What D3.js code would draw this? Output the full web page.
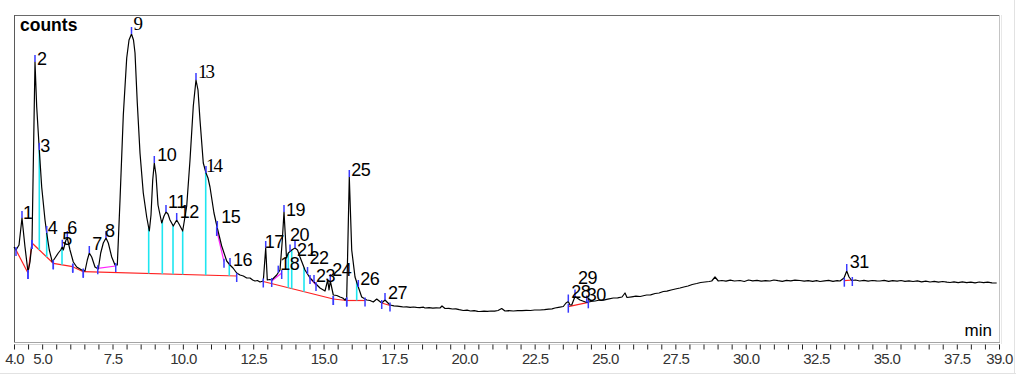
<!DOCTYPE html>
<html>
<head>
<meta charset="utf-8">
<script src="https://cdn.jsdelivr.net/npm/d3@7"></script>
<style>
  html, body { margin: 0; padding: 0; background: #fff; }
  svg { display: block; font-family: "Liberation Sans", Arial, sans-serif; }
</style>
</head>
<body>
<div id="svgContainer"></div>
<script>
// chromatogram trace: retention time (min) and detector counts
const times = [
  4.000, 4.071, 4.178, 4.284, 4.391, 4.497, 4.569, 4.640, 4.746, 4.807,
  4.878, 4.899, 4.984, 5.102, 5.162, 5.254, 5.361, 5.457, 5.574, 5.659,
  5.716, 5.752, 5.848, 5.894, 5.990, 6.107, 6.228, 6.406, 6.523, 6.605,
  6.676, 6.761, 6.878, 6.995, 7.081, 7.173, 7.269, 7.351, 7.472, 7.589,
  7.671, 7.767, 7.884, 8.005, 8.087, 8.175, 8.246, 8.300, 8.381, 8.477,
  8.594, 8.715, 8.808, 8.868, 8.929, 8.985, 9.046, 9.117, 9.248, 9.330,
  9.401, 9.472, 9.543, 9.660, 9.781, 9.863, 9.994, 10.137, 10.254, 10.371,
  10.467, 10.538, 10.609, 10.726, 10.822, 10.893, 10.964, 11.106, 11.224, 11.380,
  11.558, 11.675, 11.782, 11.913, 12.031, 12.150, 12.269, 12.386, 12.480, 12.564,
  12.650, 12.741, 12.858, 12.944, 13.001, 13.080, 13.157, 13.335, 13.452, 13.534,
  13.594, 13.640, 13.683, 13.747, 13.868, 13.985, 14.074, 14.162, 14.340, 14.518,
  14.695, 14.873, 15.051, 15.147, 15.193, 15.239, 15.346, 15.470, 15.584, 15.680,
  15.762, 15.822, 15.914, 16.000, 16.117, 16.234, 16.355, 16.533, 16.650, 16.767,
  16.888, 17.066, 17.183, 17.360, 17.500, 17.620, 17.750, 17.833, 17.950, 18.080,
  18.190, 18.300, 18.420, 18.550, 18.604, 18.750, 18.880, 19.000, 19.137, 19.208,
  19.315, 19.450, 19.580, 19.700, 19.820, 19.965, 20.100, 20.220, 20.350, 20.480,
  20.558, 20.700, 20.820, 20.950, 21.080, 21.198, 21.329, 21.447, 21.580, 21.742,
  21.900, 22.050, 22.200, 22.350, 22.500, 22.690, 22.850, 23.000, 23.120, 23.223,
  23.350, 23.518, 23.614, 23.696, 23.756, 23.817, 23.934, 24.112, 24.350, 24.500,
  24.650, 24.822, 24.950, 25.100, 25.295, 25.450, 25.604, 25.711, 25.782, 25.950,
  26.100, 26.250, 26.400, 26.482, 26.620, 26.780, 26.920, 27.072, 27.200, 27.350,
  27.500, 27.665, 27.800, 27.950, 28.100, 28.259, 28.400, 28.550, 28.700, 28.792,
  28.909, 29.026, 29.150, 29.300, 29.450, 29.600, 29.797, 29.950, 30.100, 30.250,
  30.400, 30.550, 30.700, 30.863, 31.000, 31.150, 31.300, 31.450, 31.600, 31.750,
  31.929, 32.080, 32.220, 32.380, 32.520, 32.640, 32.800, 32.950, 33.100, 33.250,
  33.351, 33.493, 33.589, 33.671, 33.767, 33.900, 34.050, 34.200, 34.350, 34.500,
  34.650, 34.772, 34.920, 35.080, 35.220, 35.380, 35.520, 35.660, 35.800, 35.945,
  36.100, 36.250, 36.400, 36.550, 36.700, 36.850, 37.000, 37.150, 37.259, 37.400,
  37.550, 37.700, 37.850, 38.000, 38.150, 38.300, 38.450, 38.600, 38.750, 38.918
];
const counts = [
  9600, 9300, 9800, 12500, 9600, 7100, 8100, 10100, 28100, 23600,
  20300, 19300, 15600, 12300, 11000, 9300, 8100, 8500, 9000, 9300,
  9630, 9300, 10300, 10500, 9300, 8100, 7600, 7300, 7200, 8300,
  9000, 8600, 7600, 7400, 9000, 10000, 10500, 10000, 8600, 7800,
  7800, 14300, 22800, 28500, 30300, 30900, 30300, 29000, 24000, 19000,
  15000, 12600, 11200, 12800, 16300, 18000, 16800, 13800, 12000, 12700,
  13100, 12900, 12300, 11700, 12300, 11900, 11200, 13700, 18300, 23700,
  26300, 25300, 22300, 18000, 17000, 16500, 15600, 13000, 11500, 9700,
  8200, 7800, 7500, 7000, 6800, 6700, 6500, 6500, 6300, 6200,
  6250, 6100, 6200, 9500, 6300, 6350, 6300, 6800, 7300, 10300,
  13100, 10800, 8500, 9000, 9300, 9500, 9300, 8600, 7300, 6500,
  6000, 5500, 5200, 6300, 5300, 6200, 4800, 4750, 4600, 4500,
  4300, 4500, 16600, 9300, 6600, 5600, 4600, 4300, 4250, 4100,
  4400, 4000, 4300, 3800, 3720, 3680, 3640, 3600, 3620, 3570,
  3600, 3560, 3540, 3580, 3500, 3530, 3490, 3510, 3500, 3700,
  3450, 3470, 3400, 3420, 3330, 3250, 3280, 3200, 3230, 3170,
  3150, 3190, 3160, 3200, 3180, 3250, 3450, 3200, 3230, 3200,
  3240, 3230, 3270, 3250, 3300, 3300, 3330, 3380, 3420, 3500,
  3560, 3650, 4000, 4150, 3800, 3800, 4650, 4300, 4050, 4150,
  4200, 4300, 4280, 4380, 4500, 4520, 4600, 5000, 4550, 4620,
  4680, 4650, 4750, 4800, 4820, 4950, 5000, 5150, 5180, 5300,
  5400, 5500, 5600, 5700, 5850, 5950, 6050, 6100, 6150, 6200,
  6600, 6200, 6250, 6180, 6280, 6200, 6250, 6150, 6300, 6220,
  6260, 6180, 6240, 6200, 6300, 6230, 6170, 6260, 6210, 6280,
  6250, 6180, 6240, 6160, 6230, 6150, 6220, 6260, 6170, 6230,
  6200, 6500, 7200, 6600, 6250, 6300, 6200, 6260, 6180, 6250,
  6210, 6200, 6260, 6170, 6230, 6190, 6250, 6160, 6220, 6150,
  6210, 6120, 6180, 6100, 6160, 6090, 6150, 6080, 6050, 6120,
  6040, 6110, 6030, 6090, 6020, 6100, 6030, 6080, 6010, 6000
];

// integrated peaks: number and apex retention time
const peakLabels = [
  "1", "2", "3", "4", "5", "6", "7", "8", "9", "10",
  "11", "12", "13", "14", "15", "16", "17", "18", "19", "20",
  "21", "22", "23", "24", "25", "26", "27", "28", "29", "30", "31"
];
const peakTimes = [
  4.284, 4.746, 4.899, 5.162, 5.716, 5.894, 6.676, 7.269, 8.175, 8.985,
  9.401, 9.781, 10.467, 10.822, 11.224, 11.675, 12.944, 13.39, 13.594, 13.808,
  13.985, 14.43, 14.66, 15.239, 15.914, 16.234, 17.183, 23.696, 23.934, 24.35, 33.589
];

// baselines: [t0, c0, t1, c1]
const baselineSegs = [
  [4.071, 9300, 4.497, 7000],
  [4.497, 7000, 4.640, 10000],
  [4.640, 10000, 5.396, 7970],
  [5.396, 7970, 6.086, 7630],
  [6.086, 7630, 6.462, 7130],
  [6.462, 7130, 11.913, 6700],
  [12.858, 6150, 15.346, 4400],
  [15.346, 4400, 15.822, 4250],
  [15.822, 4250, 16.473, 4250],
  [17.066, 4000, 17.360, 3750],
  [23.696, 3630, 24.407, 4070],
  [33.504, 6230, 33.788, 6300]
];
// tangent skims
const skimSegs = [
  [6.976, 7470, 7.615, 7700],
  [11.202, 11300, 11.462, 8130],
  [13.157, 6200, 13.512, 7000],
  [14.518, 6500, 14.731, 5800]
];
// perpendicular drops
const dropTimes = [
  4.899, 5.162, 5.706, 8.786, 9.270, 9.650, 9.994, 10.812, 11.650,
  13.747, 13.868, 14.305, 16.177
];

const tickLabels = [4, 5, 7.5, 10, 12.5, 15, 17.5, 20, 22.5, 25, 27.5, 30, 32.5, 35, 37.5, 39];

// label shift for each peak number, in pixels
const labelShift = [
  [1, 1], [2, 3], [1, 2], [1, 1], [0, -2], [0, -4], [3, -3], [-1, -1], [2, -4], [3, -2],
  [2, -4], [3, -2], [2, -2], [0, -1], [4, -5], [3, 1], [-1, 0], [2, -3], [2, 4], [0, -10],
  [2, 8], [2, -10], [2, 0], [2, -5], [2, -1], [2, -2], [3, -1], [3, -4], [3, -13], [0, -2], [3, -3]
];
const serifLabels = ["9", "13", "14"];

const width = 1016;
const height = 376;

const x = d3.scaleLinear().domain([4, 39]).range([14, 999]);
const y = d3.scaleLinear().domain([0, 32800]).range([343, 15]);

const trace = times.map((t, i) => ({ t: t, c: counts[i] }));
const bisect = d3.bisector((d) => d.t).left;

function signalAt(t) {
  const i = bisect(trace, t);
  if (i <= 0) return trace[0].c;
  if (i >= trace.length) return trace[trace.length - 1].c;
  const a = trace[i - 1], b = trace[i];
  return a.c + ((b.c - a.c) * (t - a.t)) / (b.t - a.t);
}

function baselineAt(t) {
  const s = baselineSegs.find((d) => t >= d[0] && t <= d[2]);
  if (!s) return signalAt(t);
  return s[1] + ((s[3] - s[1]) * (t - s[0])) / (s[2] - s[0]);
}

const svg = d3
  .select("#svgContainer")
  .append("svg")
  .attr("width", width)
  .attr("height", height);

// outer edge
svg.append("line").attr("x1", 0).attr("x2", width).attr("y1", 373.5).attr("y2", 373.5)
  .attr("stroke", "#e2e2e2");
svg.append("line").attr("x1", 1014.5).attr("x2", 1014.5).attr("y1", 0).attr("y2", 374)
  .attr("stroke", "#e2e2e2");

// plot frame
svg.append("line").attr("x1", 14).attr("x2", 999).attr("y1", 15.5).attr("y2", 15.5)
  .attr("stroke", "#6a6a6a");
svg.append("line").attr("x1", 14.5).attr("x2", 14.5).attr("y1", 15).attr("y2", 343)
  .attr("stroke", "#5a5a5a");
svg.append("line").attr("x1", 999.5).attr("x2", 999.5).attr("y1", 15).attr("y2", 343)
  .attr("stroke", "#c4c4c4");
svg.append("line").attr("x1", 1001.5).attr("x2", 1001.5).attr("y1", 15).attr("y2", 344)
  .attr("stroke", "#e8e8e8");
svg.append("line").attr("x1", 14).attr("x2", 1000).attr("y1", 342.5).attr("y2", 342.5)
  .attr("stroke", "#a4a4a4");
svg.append("line").attr("x1", 14).attr("x2", 1000).attr("y1", 344.5).attr("y2", 344.5)
  .attr("stroke", "#d4d4d4");

// x axis
const axis = svg
  .append("g")
  .attr("transform", "translate(0,344.5)")
  .call(
    d3.axisBottom(x)
      .tickValues(d3.range(4, 39.001, 0.5))
      .tickSize(5)
      .tickPadding(4)
      .tickFormat((d) => (tickLabels.some((v) => Math.abs(v - d) < 1e-6) ? d3.format(".1f")(d) : ""))
  );
axis.select(".domain").remove();
axis.selectAll(".tick line").attr("stroke", "#222");
axis.selectAll(".tick text")
  .style("font-family", "'Liberation Sans', Arial, sans-serif")
  .style("font-size", "15px")
  .style("letter-spacing", "-0.7px")
  .attr("fill", "#333");

// baselines and skims
svg.append("g")
  .selectAll("line")
  .data(baselineSegs)
  .enter()
  .append("line")
  .attr("x1", (d) => x(d[0])).attr("y1", (d) => y(d[1]))
  .attr("x2", (d) => x(d[2])).attr("y2", (d) => y(d[3]))
  .attr("stroke", "#ff2020")
  .attr("stroke-width", 1.2);

svg.append("g")
  .selectAll("line")
  .data(skimSegs)
  .enter()
  .append("line")
  .attr("x1", (d) => x(d[0])).attr("y1", (d) => y(d[1]))
  .attr("x2", (d) => x(d[2])).attr("y2", (d) => y(d[3]))
  .attr("stroke", "#ff20ff")
  .attr("stroke-width", 1.2);

// drop lines
svg.append("g")
  .selectAll("line")
  .data(dropTimes)
  .enter()
  .append("line")
  .attr("x1", (d) => x(d)).attr("x2", (d) => x(d))
  .attr("y1", (d) => y(signalAt(d)))
  .attr("y2", (d) => y(baselineAt(d)))
  .attr("stroke", "#1ee6f0")
  .attr("stroke-width", 1.6);

// trace
const line = d3.line().x((d) => x(d.t)).y((d) => y(d.c));
svg.append("path")
  .datum(trace)
  .attr("d", line)
  .attr("fill", "none")
  .attr("stroke", "#000")
  .attr("stroke-width", 1.2)
  .attr("stroke-linejoin", "round");

// boundary markers
const bounds = [];
baselineSegs.concat(skimSegs).forEach((s) => {
  bounds.push([s[0], s[1]]);
  bounds.push([s[2], s[3]]);
});
svg.append("g")
  .selectAll("line")
  .data(bounds)
  .enter()
  .append("line")
  .attr("x1", (d) => x(d[0])).attr("x2", (d) => x(d[0]))
  .attr("y1", (d) => y(d[1]) - 3)
  .attr("y2", (d) => y(d[1]) + 6)
  .attr("stroke", "#3a3aff")
  .attr("stroke-width", 1.5);

// apex markers and peak numbers
const peaks = peakLabels.map((p, i) => ({
  label: p,
  t: peakTimes[i],
  c: signalAt(peakTimes[i]),
  shift: labelShift[i],
}));

svg.append("g")
  .selectAll("line")
  .data(peaks)
  .enter()
  .append("line")
  .attr("x1", (d) => x(d.t)).attr("x2", (d) => x(d.t))
  .attr("y1", (d) => y(d.c) - 7)
  .attr("y2", (d) => y(d.c))
  .attr("stroke", "#3a3aff")
  .attr("stroke-width", 1.5);

svg.append("g")
  .selectAll("text")
  .data(peaks)
  .enter()
  .append("text")
  .attr("x", (d) => x(d.t) + d.shift[0])
  .attr("y", (d) => y(d.c) + d.shift[1])
  .style("font-family", (d) =>
    serifLabels.includes(d.label) ? "'Liberation Serif', 'Times New Roman', serif" : "'Liberation Sans', Arial, sans-serif")
  .style("font-size", (d) => (serifLabels.includes(d.label) ? "19px" : "18px"))
  .style("letter-spacing", (d) => (serifLabels.includes(d.label) ? "-2px" : "-0.5px"))
  .attr("fill", "#000")
  .text((d) => d.label);

// axis captions
svg.append("text")
  .attr("x", 20)
  .attr("y", 31)
  .style("font-size", "17.5px")
  .style("font-weight", "bold")
  .text("counts");

svg.append("text")
  .attr("x", 992)
  .attr("y", 336)
  .attr("text-anchor", "end")
  .style("font-size", "17px")
  .text("min");
</script>
</body>
</html>
